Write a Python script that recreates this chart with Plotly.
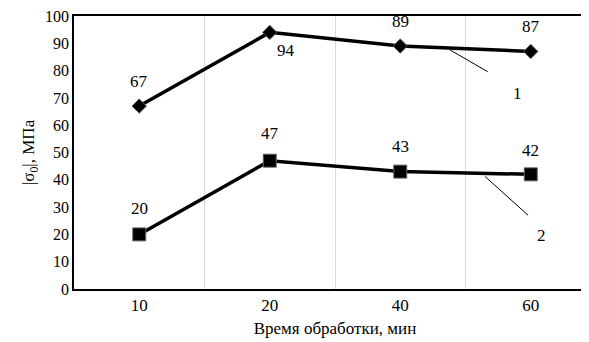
import plotly.graph_objects as go

categories = ["10", "20", "40", "60"]
series1 = [67, 94, 89, 87]
series2 = [20, 47, 43, 42]

FONT = "Times New Roman, Liberation Serif, DejaVu Serif, serif"

# label offsets (pixels) for value labels
shift1 = [(0, 25), (16, -18), (0, 25), (0, 25)]
shift2 = [(0, 26), (0, 27), (0, 25), (0, 24)]

fig = go.Figure()
fig.add_trace(go.Scatter(
    x=categories, y=series1, mode="lines+markers",
    line=dict(color="black", width=3.5),
    marker=dict(symbol="diamond", size=11, color="black", line=dict(color="#555", width=1)),
    showlegend=False, cliponaxis=False))
fig.add_trace(go.Scatter(
    x=categories, y=series2, mode="lines+markers",
    line=dict(color="black", width=3.5),
    marker=dict(symbol="square", size=13, color="black", line=dict(color="#666", width=1)),
    showlegend=False, cliponaxis=False))

for vals, shifts in ((series1, shift1), (series2, shift2)):
    for i, (v, (dx, dy)) in enumerate(zip(vals, shifts)):
        fig.add_annotation(x=i, y=v, xref="x", yref="y", text=str(v), showarrow=False,
                           xshift=dx, yshift=dy,
                           font=dict(family=FONT, size=17, color="black"))

# leader lines and series labels
fig.add_shape(type="line", xref="x", yref="y", x0=2.38, y0=87.6, x1=2.67, y1=79.6,
              line=dict(color="black", width=1))
fig.add_shape(type="line", xref="x", yref="y", x0=2.65, y0=41.2, x1=2.98, y1=27.0,
              line=dict(color="black", width=1))
fig.add_annotation(x=2.9, y=71.5, xref="x", yref="y", text="1", showarrow=False,
                   font=dict(family=FONT, size=17, color="black"))
fig.add_annotation(x=3.08, y=19.5, xref="x", yref="y", text="2", showarrow=False,
                   font=dict(family=FONT, size=17, color="black"))

fig.update_layout(
    width=589, height=342,
    margin=dict(l=66, r=1, t=8, b=61, autoexpand=False),
    paper_bgcolor="white", plot_bgcolor="white",
    font=dict(family=FONT, size=17, color="black"),
    xaxis=dict(
        type="category", range=[-0.5, 3.5], tickson="boundaries",
        showgrid=True, gridcolor="#d9d9d9", gridwidth=1,
        showline=True, linecolor="black", linewidth=1.5, mirror=True,
        ticks="", tickfont=dict(family=FONT, size=17),
        title=dict(text="Время обработки, мин", font=dict(family=FONT, size=17), standoff=8),
        zeroline=False, automargin=False,
    ),
    yaxis=dict(
        range=[0, 100], dtick=10, showgrid=False,
        showline=True, linecolor="black", linewidth=1.5, mirror=True,
        ticks="", tickfont=dict(family=FONT, size=16), ticklabeloverflow="allow",
        title=dict(text="|σ<sub>0</sub>|, МПа", font=dict(family=FONT, size=17), standoff=6),
        zeroline=False, automargin=False,
    ),
)

fig.write_html("out.html")
